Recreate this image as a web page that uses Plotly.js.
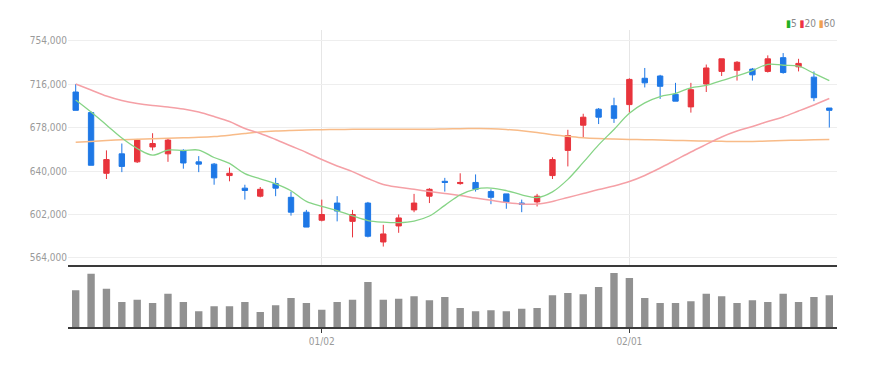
<!DOCTYPE html>
<html><head><meta charset="utf-8">
<script src="https://cdn.plot.ly/plotly-3.0.1.min.js"></script>
<style>html,body{margin:0;padding:0;background:#fff}#chart{width:878px;height:368px}</style>
</head><body><div id="chart"></div>
<script>
const dates = ['2022-12-08','2022-12-09','2022-12-12','2022-12-13','2022-12-14','2022-12-15','2022-12-16','2022-12-19','2022-12-20','2022-12-21','2022-12-22','2022-12-23','2022-12-26','2022-12-27','2022-12-28','2022-12-29',
'2023-01-02','2023-01-03','2023-01-04','2023-01-05','2023-01-06','2023-01-09','2023-01-10','2023-01-11','2023-01-12','2023-01-13','2023-01-16','2023-01-17','2023-01-18','2023-01-19','2023-01-20','2023-01-25','2023-01-26','2023-01-27','2023-01-30','2023-01-31',
'2023-02-01','2023-02-02','2023-02-03','2023-02-06','2023-02-07','2023-02-08','2023-02-09','2023-02-10','2023-02-13','2023-02-14','2023-02-15','2023-02-16','2023-02-17','2023-02-20'];
const openP  = [709000,691000,638000,655000,648000,661000,655000,658000,648000,646000,636000,625000,618000,629000,617000,604000,597000,612000,596000,612000,578000,592000,606000,618000,631000,629000,630000,622000,620000,612000,613000,636000,658000,680000,694000,697000,698000,721000,723000,707000,696000,716000,727000,728000,729000,727000,739000,731000,722000,695000];
const highP  = [716000,692000,658000,664000,668000,673000,668000,659000,653000,647000,643000,628000,626000,634000,622000,606000,615000,618000,606000,613000,593000,602000,620000,625000,634000,638000,637000,624000,620000,615000,620000,652000,676000,690000,695000,704000,721000,730000,724000,717000,717000,733000,738000,736000,730000,741000,743000,738000,727000,695000];
const lowP   = [693000,645000,633000,639000,647000,658000,648000,642000,639000,628000,631000,615000,617000,618000,601000,591000,596000,596000,582000,582000,574000,586000,604000,612000,622000,628000,622000,611000,607000,604000,609000,633000,644000,669000,681000,682000,691000,713000,703000,701000,691000,709000,723000,719000,719000,726000,725000,727000,701000,678000];
const closeP = [693000,645000,650000,644000,667000,664000,667000,647000,646000,634000,638000,623000,624000,625000,604000,591000,602000,605000,602000,583000,585000,599000,612000,624000,630000,630000,624000,617000,613000,611000,618000,650000,671000,687000,687000,686000,720000,717000,714000,701000,711000,730000,738000,735000,724000,738000,726000,734000,704000,693000];
const volume = [367000,533000,383000,250000,273000,240000,333000,250000,157000,207000,207000,250000,150000,217000,290000,240000,173000,250000,273000,450000,273000,283000,307000,267000,300000,190000,157000,167000,157000,183000,190000,317000,340000,327000,400000,540000,490000,290000,240000,240000,257000,333000,307000,240000,267000,250000,333000,250000,300000,317000];
const ma5  = [702000,691500,680200,668800,659700,653900,658300,657800,658300,651800,646600,637700,633100,628800,622700,613400,609100,605400,600800,596700,595300,594900,596300,600700,610000,619100,624200,625100,622900,619200,616800,621800,632700,647500,662800,676300,690400,699500,705000,707800,712700,714700,719000,723000,727700,733200,732400,731600,725300,719000];
const ma20 = [716000,710800,705500,701600,699000,697200,695900,694200,691500,687600,683200,677100,672800,667500,661800,656200,650000,644400,639400,633400,628200,625800,624000,622100,620300,618600,616400,614400,612500,611200,611200,613400,616900,620300,623800,626900,630800,636100,642600,649600,656600,663200,669700,674900,678900,683200,687200,692400,697700,703300];
const ma60 = [665100,665800,666600,667300,667800,668200,668600,669000,669400,670100,671300,672800,674100,674900,675400,675800,676100,676300,676400,676500,676500,676500,676400,676400,676700,677000,677100,677000,676300,675100,673600,671700,670300,669000,668300,667900,667600,667400,667100,666700,666400,666100,665900,665700,665800,666100,666600,666900,667300,667500];
const priceTicks = [564000,602000,640000,678000,716000,754000];
const dateTicks = ['2023-01-02','2023-02-01'];
const dateTickText = ['01/02','02/01'];

const RED = '#e8343c', BLUE = '#1e78e6';
const tickFont = {family:'"Liberation Sans Narrow","Arial Narrow","DejaVu Sans Condensed",sans-serif', size:10, color:'#9a9a9a'};

const traces = [
  {type:'candlestick', x:dates, open:openP, high:highP, low:lowP, close:closeP,
   xaxis:'x', yaxis:'y', whiskerwidth:0, hoverinfo:'skip', showlegend:false,
   increasing:{line:{color:RED,width:1}, fillcolor:RED},
   decreasing:{line:{color:BLUE,width:1}, fillcolor:BLUE}},
  {type:'scatter', mode:'lines', x:dates, y:ma60, xaxis:'x', yaxis:'y', line:{color:'#f8bb88',width:1.5,shape:'spline',smoothing:1}, hoverinfo:'skip', showlegend:false},
  {type:'scatter', mode:'lines', x:dates, y:ma20, xaxis:'x', yaxis:'y', line:{color:'#f5a0a6',width:1.5,shape:'spline',smoothing:1}, hoverinfo:'skip', showlegend:false},
  {type:'scatter', mode:'lines', x:dates, y:ma5, xaxis:'x', yaxis:'y', line:{color:'#86d486',width:1.3,shape:'spline',smoothing:1}, hoverinfo:'skip', showlegend:false},
  {type:'bar', x:dates, y:volume, xaxis:'x2', yaxis:'y2', marker:{color:'#919191'}, hoverinfo:'skip', showlegend:false}
];

const split = (327-264.7)/297;
const layout = {
  width:878, height:368,
  margin:{l:68, r:41, t:30, b:41},
  paper_bgcolor:'#fff', plot_bgcolor:'#fff',
  showlegend:false, boxgap:0.5, bargap:0.52,
  xaxis:{type:'category', domain:[0,1], anchor:'y', range:[-0.5,49.5], rangeslider:{visible:false},
    tickvals:dateTicks, ticktext:dateTickText, showticklabels:false, showgrid:true, gridcolor:'#e6e6e6', gridwidth:1,
    showline:true, linecolor:'#3a3a3a', linewidth:2, zeroline:false, ticks:''},
  yaxis:{domain:[split,1], range:[558140,763174], tickvals:priceTicks, tickformat:',d', tickfont:tickFont,
    showgrid:true, gridcolor:'#eeeeee', zeroline:false, showline:false, ticks:'', fixedrange:true},
  xaxis2:{type:'category', domain:[0,1], anchor:'y2', range:[-0.5,49.5], matches:'x',
    tickvals:dateTicks, ticktext:dateTickText, tickfont:tickFont, showgrid:false,
    showline:true, linecolor:'#3a3a3a', linewidth:2, ticks:'outside', ticklen:4, tickcolor:'#3a3a3a', zeroline:false},
  yaxis2:{domain:[0,split], range:[0,623000], visible:false, showgrid:false, zeroline:false},
  annotations:[{xref:'paper', yref:'paper', x:1, y:1+7/297, xanchor:'right', yanchor:'middle', showarrow:false,
    font:{family:'"Liberation Sans Narrow","DejaVu Sans Condensed",sans-serif', size:10, color:'#8a8a8a'},
    text:'<span style="color:#22b022">▮</span>5 <span style="color:#ee3344">▮</span>20 <span style="color:#f0a050">▮</span>60'}]
};
Plotly.newPlot('chart', traces, layout, {staticPlot:true, displayModeBar:false});
</script>
</body></html>
